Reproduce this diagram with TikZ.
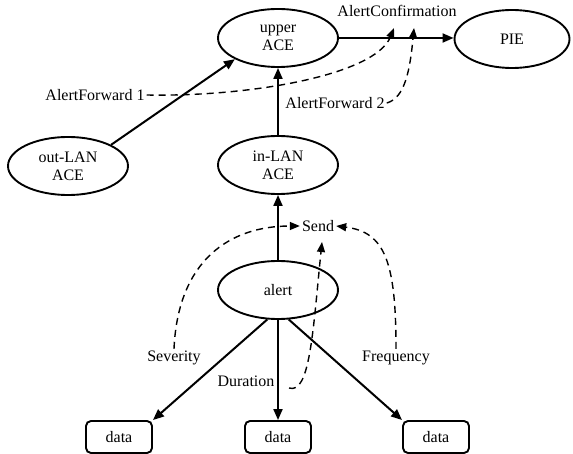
\documentclass[tikz,border=0pt]{standalone}
\usepackage{fontspec}
\setmainfont{Liberation Serif}
\usetikzlibrary{arrows.meta,shapes.geometric}
\tikzset{
  ace/.style={draw,ellipse,line width=1.9pt,minimum width=120pt,minimum height=58pt,align=center,inner sep=0pt},
  databox/.style={draw,rounded corners=5pt,line width=1.9pt,minimum width=66pt,minimum height=32pt},
  flow/.style={line width=2pt,-{Triangle[length=11pt,width=9pt]}},
  hint/.style={line width=1.4pt,dash pattern=on 7pt off 5pt,-{Triangle[length=10pt,width=8pt]}},
  lbl/.style={inner sep=2pt}
}
\begin{document}
\begin{tikzpicture}[x=1pt,y=1pt,yscale=-1,font=\fontsize{16}{18}\selectfont]
\path[use as bounding box] (0,0) rectangle (573,454);

%Shape: Ellipse
\node[ace] (upper) at (278,38) {upper\\ACE};
\node[ace,minimum width=115pt] (pie) at (512,39) {PIE};
\node[ace] (outlan) at (68,166) {out-LAN\\ACE};
\node[ace] (inlan) at (278,165) {in-LAN\\ACE};
\node[ace] (alert) at (278,290) {alert};
%Shape: Rectangle
\node[databox] (data1) at (119,437) {data};
\node[databox] (data2) at (278,437) {data};
\node[databox] (data3) at (436,437) {data};

%Text
\node[lbl] (confirm) at (397,11) {AlertConfirmation};
\node[lbl] (af1) at (95,95) {AlertForward 1};
\node[lbl] (af2) at (335,103) {AlertForward 2};
\node[lbl] (send) at (318,226) {Send};
\node[lbl] (severity) at (174,358) {Severity};
\node[lbl] (duration) at (246,381) {Duration};
\node[lbl] (frequency) at (396,358) {Frequency};

%Straight Lines
\draw[flow] (upper.east) -- (upper.east -| pie.west);
\draw[flow] (outlan.north east) -- (upper.south west);
\draw[flow] (inlan) -- (upper);
\draw[flow] (alert) -- (inlan);
\draw[flow] (alert.250) -- (data1.north east);
\draw[flow] (alert) -- (data2);
\draw[flow] (alert.290) -- (data3.north west);

%Curve Lines
\coordinate (conf1) at (394,28);
\coordinate (conf2) at (414,28);
\coordinate (durtail) at (289,388);
\coordinate (durtip) at (322,242);
\draw[hint] (af1.east) .. controls (250,97) and (375,75) .. (conf1);
\draw[hint] (af2.east) .. controls (405,98) and (410,70) .. (conf2);
\draw[hint] (severity.north) .. controls (178,260) and (230,226) .. (send.west);
\draw[hint] (frequency.north) .. controls (396,262) and (385,232) .. (send.east);
\draw[hint] (durtail) .. controls (310,395) and (313,330) .. (durtip);
\end{tikzpicture}
\end{document}
